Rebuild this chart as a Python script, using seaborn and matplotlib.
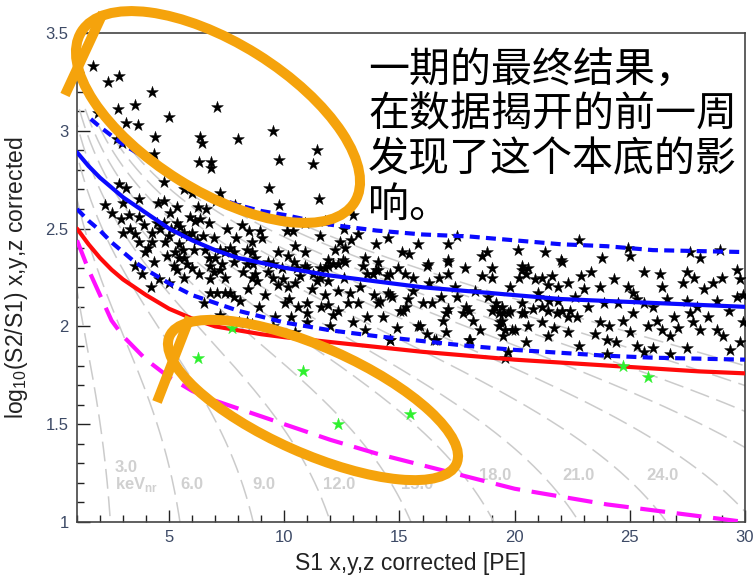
import numpy as np
import pandas as pd
import matplotlib
matplotlib.use("Agg")
import matplotlib.pyplot as plt
import seaborn as sns
from matplotlib.patches import Ellipse
from matplotlib.lines import Line2D
from matplotlib.transforms import IdentityTransform
from matplotlib.ticker import MultipleLocator

sns.set_theme(style="white")
plt.rcParams['font.family'] = ['Liberation Sans', 'Noto Sans CJK SC', 'DejaVu Sans']

# ---- background events (S1, log10(S2/S1)) ----
bg_events = [
    # sparse high-band region
    (1.70, 3.33), (2.35, 3.25), (2.82, 3.28), (4.26, 3.20), (2.78, 3.11), (3.52, 3.13),
    (1.91, 3.09), (3.13, 3.04), (3.65, 3.03), (4.99, 3.07), (7.08, 3.12), (4.39, 2.97),
    (6.34, 2.97), (6.43, 2.94), (7.99, 2.96), (9.51, 3.00), (11.44, 2.90), (4.34, 2.88),
    (9.75, 2.85), (2.74, 2.96), (2.95, 2.94), (6.30, 2.84), (6.82, 2.84), (6.82, 2.81),
    (11.25, 2.83),
    # low S1, upper part of band
    (2.82, 2.73), (3.13, 2.71), (4.78, 2.74), (5.65, 2.70), (6.00, 2.68), (7.20, 2.68),
    (3.00, 2.63), (3.70, 2.65), (4.52, 2.63), (4.78, 2.64), (5.34, 2.61), (6.25, 2.61),
    (3.26, 2.57), (3.70, 2.56), (5.04, 2.58), (4.47, 2.53), (4.78, 2.53), (5.34, 2.53),
    (5.47, 2.51), (6.12, 2.54), (6.34, 2.55), (6.73, 2.53), (3.30, 2.50), (4.26, 2.48),
    (4.60, 2.50), (5.65, 2.48), (5.86, 2.46), (6.00, 2.48), (5.00, 2.46), (3.70, 2.43),
    (4.26, 2.43), (4.82, 2.43), (5.43, 2.42), (5.60, 2.39), (6.20, 2.44), (6.47, 2.46),
    (6.95, 2.45), (5.26, 2.38), (5.43, 2.35), (5.65, 2.35), (6.08, 2.39), (6.56, 2.39),
    (6.73, 2.35), (7.00, 2.35), (7.20, 2.39), (7.43, 2.38), (7.65, 2.40), (7.82, 2.38),
    (4.34, 2.33), (5.21, 2.31), (5.78, 2.32), (6.00, 2.30), (6.78, 2.31), (7.30, 2.32),
    (7.04, 2.64), (7.86, 2.62), (8.16, 2.52), (3.00, 2.48), (3.95, 2.38), (3.52, 2.31),
    (2.20, 2.62), (2.50, 2.58), (2.90, 2.55), (3.50, 2.47), (3.90, 2.52), (4.10, 2.40),
    (4.90, 2.36), (5.10, 2.50), (5.90, 2.56), (6.60, 2.60), (7.50, 2.50), (7.90, 2.45),
    # low S1, lower part of band
    (5.34, 2.29), (3.82, 2.27), (4.56, 2.24), (5.65, 2.25), (6.95, 2.28), (6.78, 2.24),
    (7.08, 2.17), (7.43, 2.17), (7.65, 2.17), (7.82, 2.15), (8.08, 2.13), (7.43, 2.25),
    (6.78, 2.17), (8.03, 2.02), (7.82, 2.33), (7.20, 2.29), (8.20, 2.28), (6.30, 2.27),
    (5.00, 2.22), (4.20, 2.20), (6.50, 2.12), (7.20, 2.06),
    # mid S1
    (9.34, 2.71), (9.78, 2.62), (11.50, 2.65), (11.77, 2.54), (13.00, 2.57),
    (8.47, 2.49), (8.95, 2.49), (10.10, 2.49), (10.38, 2.49), (11.55, 2.46), (12.40, 2.43),
    (12.90, 2.44), (13.98, 2.42), (8.60, 2.43), (8.38, 2.39), (9.03, 2.45), (10.47, 2.41),
    (10.90, 2.38), (9.73, 2.38), (10.16, 2.36), (8.60, 2.38), (8.73, 2.35), (12.20, 2.39),
    (12.64, 2.40), (13.50, 2.35), (15.10, 2.38), (15.40, 2.37), (14.07, 2.33), (11.90, 2.34),
    (12.55, 2.34), (11.55, 2.30), (11.77, 2.30), (9.30, 2.33), (9.50, 2.32), (8.38, 2.32),
    (9.50, 2.25), (11.25, 2.27), (11.55, 2.25), (11.90, 2.23), (13.60, 2.27), (12.10, 2.32),
    (11.00, 2.30), (10.55, 2.30), (10.40, 2.33), (8.65, 2.32),
    (10.90, 2.31), (11.90, 2.31), (12.33, 2.32), (12.64, 2.33), (13.40, 2.31), (13.85, 2.27),
    (14.07, 2.29), (14.46, 2.26), (14.94, 2.30), (15.24, 2.27), (8.60, 2.25), (8.82, 2.23),
    (8.73, 2.27), (8.43, 2.19), (9.16, 2.16), (9.73, 2.21), (9.95, 2.24), (10.16, 2.20),
    (10.47, 2.22), (10.03, 2.12), (10.20, 2.14), (10.60, 2.10), (10.99, 2.12), (10.99, 2.07),
    (10.99, 2.02), (10.47, 1.97), (11.20, 2.19), (11.77, 2.16), (12.33, 2.18), (12.33, 2.08),
    (12.10, 2.06), (12.85, 2.17), (13.20, 2.12), (12.77, 2.12), (13.60, 2.05), (14.07, 2.12),
    (14.50, 2.17), (14.68, 2.15), (15.03, 2.08), (15.30, 2.10), (15.37, 2.14), (14.90, 1.99),
    (14.60, 1.93), (8.38, 2.02), (8.60, 2.01), (9.60, 2.05), (11.60, 2.10), (13.00, 2.02),
    (8.90, 2.10), (9.30, 2.28), (9.90, 2.30), (10.70, 2.26), (10.30, 2.05), (11.40, 2.23),
    (11.90, 2.11), (12.60, 2.25), (13.30, 2.20), (13.90, 2.16), (14.30, 2.05), (13.50, 1.98),
    (12.00, 2.00), (9.50, 2.00), (14.50, 2.45), (13.20, 2.47), (12.60, 2.50), (10.90, 2.53),
    # high S1
    (16.24, 2.32), (17.10, 2.33), (17.85, 2.30), (19.00, 2.30), (20.30, 2.29), (20.60, 2.30),
    (21.60, 2.26), (22.06, 2.33), (22.90, 2.26), (16.70, 2.25), (17.10, 2.27), (18.60, 2.26),
    (19.00, 2.25), (20.20, 2.25), (20.90, 2.24), (21.20, 2.25), (21.45, 2.21), (21.90, 2.20),
    (22.30, 2.22), (16.00, 2.12), (16.40, 2.12), (15.80, 2.00), (17.00, 2.07), (17.10, 2.09),
    (17.50, 2.15), (17.90, 2.10), (18.20, 2.03), (17.00, 1.97), (16.50, 1.93), (18.00, 1.93),
    (18.85, 2.15), (19.15, 2.10), (19.30, 2.07), (19.45, 2.03), (19.30, 2.00), (19.60, 1.98),
    (19.50, 1.95), (19.00, 2.08), (19.45, 2.10), (19.70, 2.07), (20.00, 1.98), (20.30, 2.12),
    (20.30, 2.07), (20.60, 2.00), (21.00, 2.15), (21.20, 2.10), (21.45, 2.08), (21.90, 2.13),
    (22.06, 2.08), (22.30, 2.05), (21.45, 1.95), (22.30, 1.97), (19.60, 1.84),
    (14.16, 2.13), (14.60, 2.16), (15.16, 2.08), (15.90, 2.00), (16.60, 1.93), (14.60, 1.93),
    (16.90, 2.03), (17.76, 2.07), (18.06, 1.93), (19.20, 2.12), (19.50, 2.07), (19.35, 2.02),
    (19.80, 2.08), (19.90, 1.98), (19.70, 1.87), (20.40, 2.07), (21.00, 2.17), (21.50, 2.13),
    (21.84, 2.07), (21.20, 2.02), (22.40, 2.08), (22.70, 2.05), (23.00, 2.19), (23.70, 2.20),
    (23.70, 2.02), (24.10, 2.00), (24.00, 1.93), (24.40, 1.92), (25.00, 1.97), (25.30, 1.90),
    (24.70, 2.03), (25.14, 2.07), (24.90, 2.20), (25.14, 2.17), (25.60, 2.12), (26.00, 2.10),
    (26.20, 2.03), (26.40, 1.98), (26.75, 1.95), (26.00, 1.89), (26.75, 1.86), (27.50, 1.89),
    (27.75, 2.02), (28.05, 1.98), (27.50, 2.13), (27.90, 2.10), (28.80, 1.98), (29.05, 1.95),
    (28.80, 2.13), (29.66, 2.15), (29.35, 1.88), (29.80, 1.92), (29.90, 2.02), (27.60, 2.07),
    (26.40, 2.20), (27.30, 2.22), (28.20, 2.19), (29.90, 2.16), (23.20, 2.10), (23.50, 1.96),
    (24.50, 2.12), (26.90, 2.05), (28.40, 2.05), (22.80, 1.90),
    (15.60, 2.18), (16.30, 2.22), (16.80, 2.15), (17.40, 2.20), (18.30, 2.18), (18.00, 2.08),
    (18.50, 1.98), (19.80, 2.20), (20.80, 2.09), (21.70, 1.99), (22.60, 2.15), (23.30, 2.28),
    (23.90, 2.12), (24.30, 2.24), (25.30, 2.14), (25.80, 2.00), (26.60, 2.14), (27.10, 1.99),
    (27.80, 2.25), (28.60, 2.22), (29.30, 2.08), (29.00, 2.25), (24.00, 1.86), (25.60, 1.87),
    (20.50, 1.92), (16.20, 1.96),
    # top edge of band, high S1
    (23.80, 2.35), (24.90, 2.40), (25.00, 2.36), (27.60, 2.38), (28.05, 2.35), (28.90, 2.39),
    (17.50, 2.46), (17.10, 2.42), (18.60, 2.36), (20.15, 2.39), (22.80, 2.44), (22.00, 2.34),
    (16.20, 2.31), (17.10, 2.34), (20.30, 2.31), (20.50, 2.27), (25.60, 2.28), (26.30, 2.27),
    (27.50, 2.28), (29.66, 2.29), (29.80, 2.24), (14.00, 2.29), (14.60, 2.27), (15.60, 2.25),
    (18.80, 2.38), (21.30, 2.38), (15.80, 2.42),
]

# ---- events below the NR median ----
sig_s1 = [6.24, 7.73, 10.80, 12.33, 15.46, 24.70, 25.80]
sig_logr = [1.84, 1.99, 1.77, 1.50, 1.55, 1.80, 1.74]

# ---- ER band: median and +/- bounds ----
er_mid_s1 = [1.0, 1.5, 2.0, 2.5, 3.0, 4.0, 5.0, 6.0, 7.0, 8.0, 10, 12, 14, 16, 18, 20, 22, 24, 26, 28, 30]
er_mid_y = [2.89, 2.82, 2.76, 2.71, 2.66, 2.58, 2.50, 2.44, 2.39, 2.35, 2.30, 2.26, 2.23, 2.20, 2.18, 2.16,
            2.14, 2.13, 2.12, 2.11, 2.10]
er_hi_s1 = [1.6, 2.0, 3.0, 4.0, 5.0, 6.0, 7.0, 8.0, 9.0, 10, 12, 14, 16, 18, 20, 22, 24, 26, 28, 30]
er_hi_y = [3.06, 3.02, 2.93, 2.86, 2.77, 2.71, 2.66, 2.62, 2.59, 2.57, 2.52, 2.49, 2.47, 2.46, 2.44, 2.42,
           2.41, 2.39, 2.385, 2.38]
er_lo_s1 = [1.0, 1.5, 2.0, 2.5, 3.0, 3.5, 4, 5, 6, 7, 8, 9, 10, 12, 14, 16, 18, 20, 22, 24, 26, 28, 30]
er_lo_y = [2.60, 2.54, 2.49, 2.43, 2.38, 2.33, 2.29, 2.22, 2.16, 2.12, 2.08, 2.05, 2.02, 1.98, 1.95, 1.925,
           1.90, 1.88, 1.865, 1.85, 1.84, 1.835, 1.83]

# ---- NR median (red) and NR lower bound (magenta) ----
nr_mid_s1 = [1.0, 1.5, 2, 2.5, 3, 3.5, 4, 5, 6, 7, 8, 9, 10, 12, 14, 16, 18, 20, 22, 24, 26, 28, 30]
nr_mid_y = [2.50, 2.42, 2.35, 2.29, 2.24, 2.20, 2.16, 2.09, 2.04, 2.00, 1.98, 1.96, 1.945, 1.92, 1.895,
            1.87, 1.85, 1.83, 1.815, 1.80, 1.785, 1.77, 1.76]
nr_lo_s1 = [1.0, 1.5, 2, 2.5, 3, 4, 5, 6, 7, 8, 10, 12, 14, 16, 18, 20, 22, 24, 26, 28, 30]
nr_lo_y = [2.44, 2.29, 2.16, 2.03, 1.95, 1.83, 1.74, 1.67, 1.62, 1.58, 1.50, 1.42, 1.35, 1.29, 1.23, 1.17,
           1.13, 1.09, 1.06, 1.03, 1.00]

# ---- constant-energy contours (keVnr): S1 where each crosses log10(S2/S1)=1 ----
contour_energy = [3, 6, 9, 12, 15, 18, 21, 24, 27, 30, 33, 36, 39]
contour_s1_at_1 = [2.45, 5.47, 8.65, 12.0, 15.5, 19.1, 22.8, 26.6, 30.4, 34.3, 38.2, 42.2, 46.2]
contour_ratio = 88.0
contour_labels = ["3.0\nkeV$_{\\mathregular{nr}}$", "6.0", "9.0", "12.0", "15.0", "18.0", "21.0", "24.0"]
contour_label_x = [2.65, 5.50, 8.60, 11.70, 15.05, 18.45, 22.05, 25.70]
contour_label_y = [1.23, 1.19, 1.19, 1.19, 1.19, 1.24, 1.24, 1.24]

fig = plt.figure(figsize=(7.56, 5.77), dpi=100)
ax = fig.add_axes([77 / 756, 55 / 577, 668 / 756, 489 / 577])
ax.set_facecolor("white")

# energy contours: log10(S2/S1) = log10(k (A - S1) / S1), kept below the upper ER bound
for x_end in contour_s1_at_1:
    A = x_end * (1.0 + 10.0 / contour_ratio)
    s1 = np.linspace(0.25, A * 0.9995, 800)
    y = np.log10(contour_ratio * (A - s1) / s1)
    ceiling = np.interp(s1, er_hi_s1, er_hi_y, left=3.12)
    keep = y <= ceiling
    sns.lineplot(x=s1[keep], y=y[keep], ax=ax, color="#cbcbcb", lw=1.1, linestyle=(0, (13, 5)),
                 sort=False, estimator=None, zorder=1)

for lbl, lx, ly in zip(contour_labels, contour_label_x, contour_label_y):
    ax.text(lx, ly, lbl, color="#d0d0d0", fontsize=12, fontweight="bold",
            ha="left", va="center", linespacing=0.95, zorder=1)

bg = pd.DataFrame(bg_events, columns=["s1", "logr"])
sns.scatterplot(data=bg, x="s1", y="logr", ax=ax, marker="*", s=80, color="black",
                edgecolor="black", linewidth=0.3, zorder=3)

sns.lineplot(x=er_hi_s1, y=er_hi_y, ax=ax, color="#0a0aff", lw=3.0, linestyle=(0, (2.4, 1.5)),
             sort=False, estimator=None, zorder=4)
sns.lineplot(x=er_mid_s1, y=er_mid_y, ax=ax, color="#0a0aff", lw=3.0,
             sort=False, estimator=None, zorder=4)
sns.lineplot(x=er_lo_s1, y=er_lo_y, ax=ax, color="#0a0aff", lw=3.0, linestyle=(0, (2.4, 1.5)),
             sort=False, estimator=None, zorder=4)
sns.lineplot(x=nr_mid_s1, y=nr_mid_y, ax=ax, color="#ff0a0a", lw=3.0,
             sort=False, estimator=None, zorder=4)
sns.lineplot(x=nr_lo_s1, y=nr_lo_y, ax=ax, color="#ff10ff", lw=3.0, linestyle=(0, (6, 2.8)),
             sort=False, estimator=None, zorder=4)

sns.scatterplot(x=sig_s1, y=sig_logr, ax=ax, marker="*", s=85, color="#2ef02e",
                edgecolor="#2ef02e", linewidth=0.3, zorder=5)

ax.set_xlim(1, 30)
ax.set_ylim(1, 3.5)
ax.set_xticks([5, 10, 15, 20, 25, 30])
ax.set_xticklabels(["5", "10", "15", "20", "25", "30"])
ax.set_yticks([1, 1.5, 2, 2.5, 3, 3.5])
ax.set_yticklabels(["1", "1.5", "2", "2.5", "3", "3.5"])
ax.xaxis.set_minor_locator(MultipleLocator(1))
ax.yaxis.set_minor_locator(MultipleLocator(0.1))
ax.tick_params(which="both", direction="in", bottom=True, left=True, top=False, right=False,
               color="#222222", width=1.0, labelsize=12, labelcolor="#3d4a66")
ax.tick_params(which="major", length=9, pad=6)
ax.tick_params(which="minor", length=5)
for sp in ax.spines.values():
    sp.set_color("#444444")
    sp.set_linewidth(1.2)

ax.set_xlabel("S1 x,y,z corrected [PE]", fontsize=16.5, color="#222222", labelpad=5)
ax.set_ylabel("log$_{\\mathregular{10}}$(S2/S1) x,y,z corrected", fontsize=16.5, color="#222222",
              labelpad=11)

fig.text(368 / 756, 1 - 50 / 577,
         "一期的最终结果，\n在数据揭开的前一周\n发现了这个本底的影\n响。",
         fontsize=29.5, family=["Noto Sans CJK SC"], color="black",
         ha="left", va="top", linespacing=1.12, zorder=6)

# orange hand-drawn highlight rings
orange = "#f5a30c"
ident = IdentityTransform()
H = 577
fig.add_artist(Ellipse((218, H - 117), 2 * 161, 2 * 74, angle=-32, fill=False,
                       edgecolor=orange, lw=7.2, transform=ident, zorder=7))
fig.add_artist(Line2D([103, 65], [H - 13, H - 95], color=orange, lw=7.2,
                      solid_capstyle="butt", transform=ident, zorder=7))
fig.add_artist(Ellipse((313, H - 400), 2 * 157, 2 * 53, angle=-24, fill=False,
                       edgecolor=orange, lw=7.2, transform=ident, zorder=7))
fig.add_artist(Line2D([190, 157], [H - 317, H - 402], color=orange, lw=7.2,
                      solid_capstyle="butt", transform=ident, zorder=7))

fig.savefig("out.png", dpi=100)
